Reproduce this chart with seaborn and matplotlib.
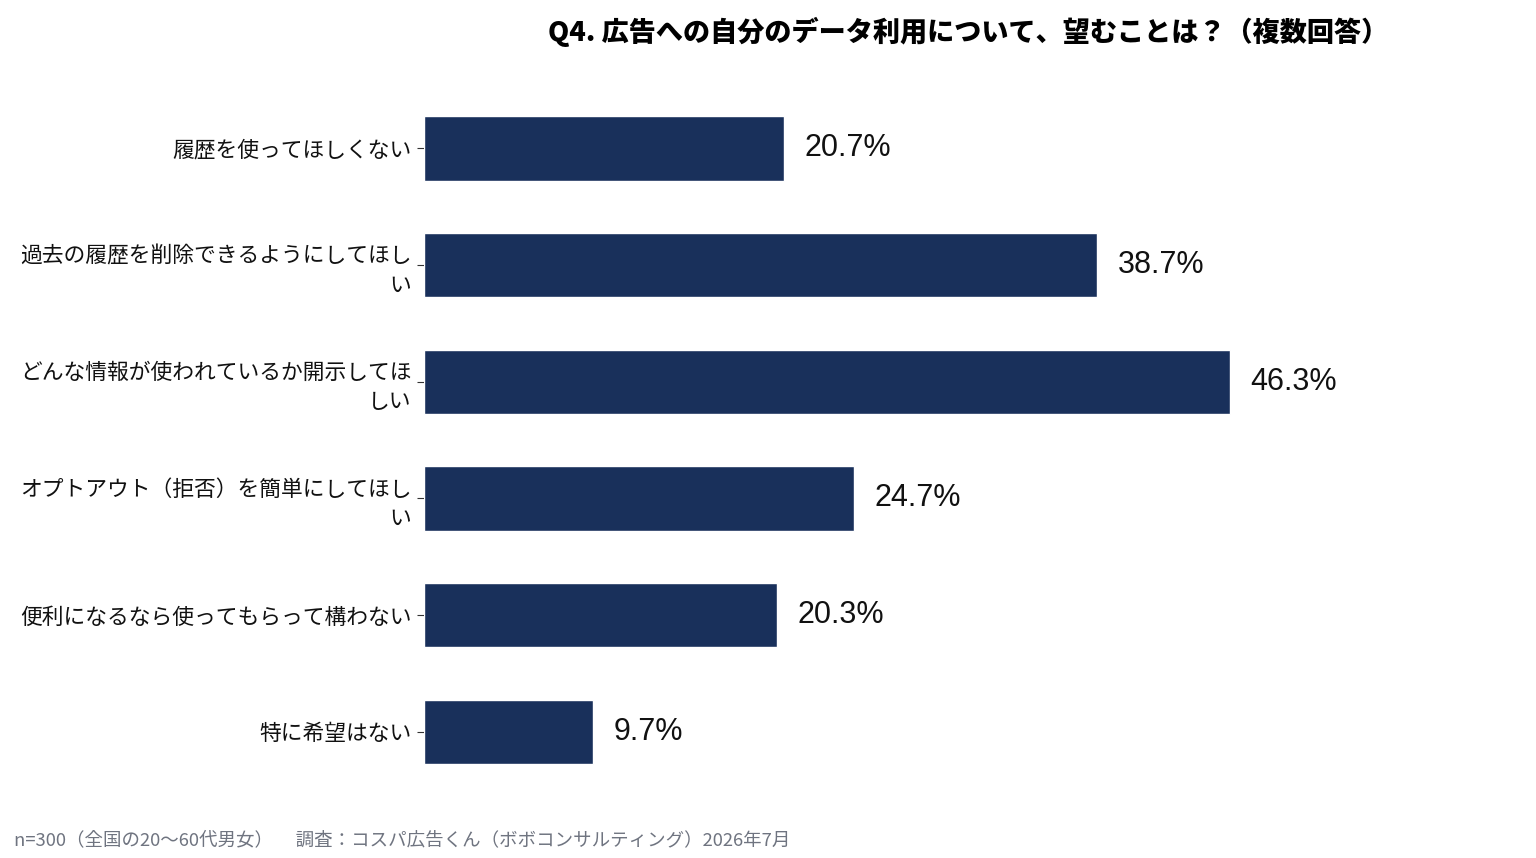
import textwrap
import pandas as pd
import matplotlib
matplotlib.use("Agg")
import matplotlib.pyplot as plt
import seaborn as sns

# Data
answers = [
    "履歴を使ってほしくない",
    "過去の履歴を削除できるようにしてほしい",
    "どんな情報が使われているか開示してほしい",
    "オプトアウト（拒否）を簡単にしてほしい",
    "便利になるなら使ってもらって構わない",
    "特に希望はない",
]
shares = [20.7, 38.7, 46.3, 24.7, 20.3, 9.7]

title = "Q4. 広告への自分のデータ利用について、望むことは？（複数回答）"
footer = "n=300（全国の20〜60代男女）　 調査：コスパ広告くん（ボボコンサルティング）2026年7月"

sns.set_theme(style="white")
plt.rcParams['font.family'] = ['Noto Sans CJK JP', 'DejaVu Sans']

df = pd.DataFrame({
    "label": ["\n".join(textwrap.wrap(a, 18)) for a in answers],
    "share": shares,
})

fig = plt.figure(figsize=(15.36, 8.58), dpi=100)
ax = fig.add_axes([0.276, 0.079, 0.708, 0.816])

sns.barplot(data=df, x="share", y="label", orient="h", color="#19305b",
            saturation=1, width=0.55, ax=ax)

for c in ax.containers:
    ax.bar_label(c, labels=[f"{v:.1f}%" for v in shares], padding=15,
                 fontsize=22, color="#111111", family=["Liberation Sans", "DejaVu Sans"])

ax.set_xlim(0, 62.5)
ax.set_ylim(5.5, -0.5)
ax.set_xlabel("")
ax.set_ylabel("")
ax.set_xticks([])
sns.despine(ax=ax, left=True, bottom=True)
ax.tick_params(axis="y", left=True, length=5, width=0.8, color="#333333",
               labelsize=15.7, pad=4)
for t in ax.get_yticklabels():
    t.set_linespacing(1.4)
    t.set_color("#111111")

ax.set_title(title, fontsize=19.5, fontweight="black", color="#000000", pad=35)

fig.text(0.009, 0.010, footer, fontsize=13.3, color="#6f7480", ha="left", va="bottom")

fig.savefig("out.png", dpi=100)
